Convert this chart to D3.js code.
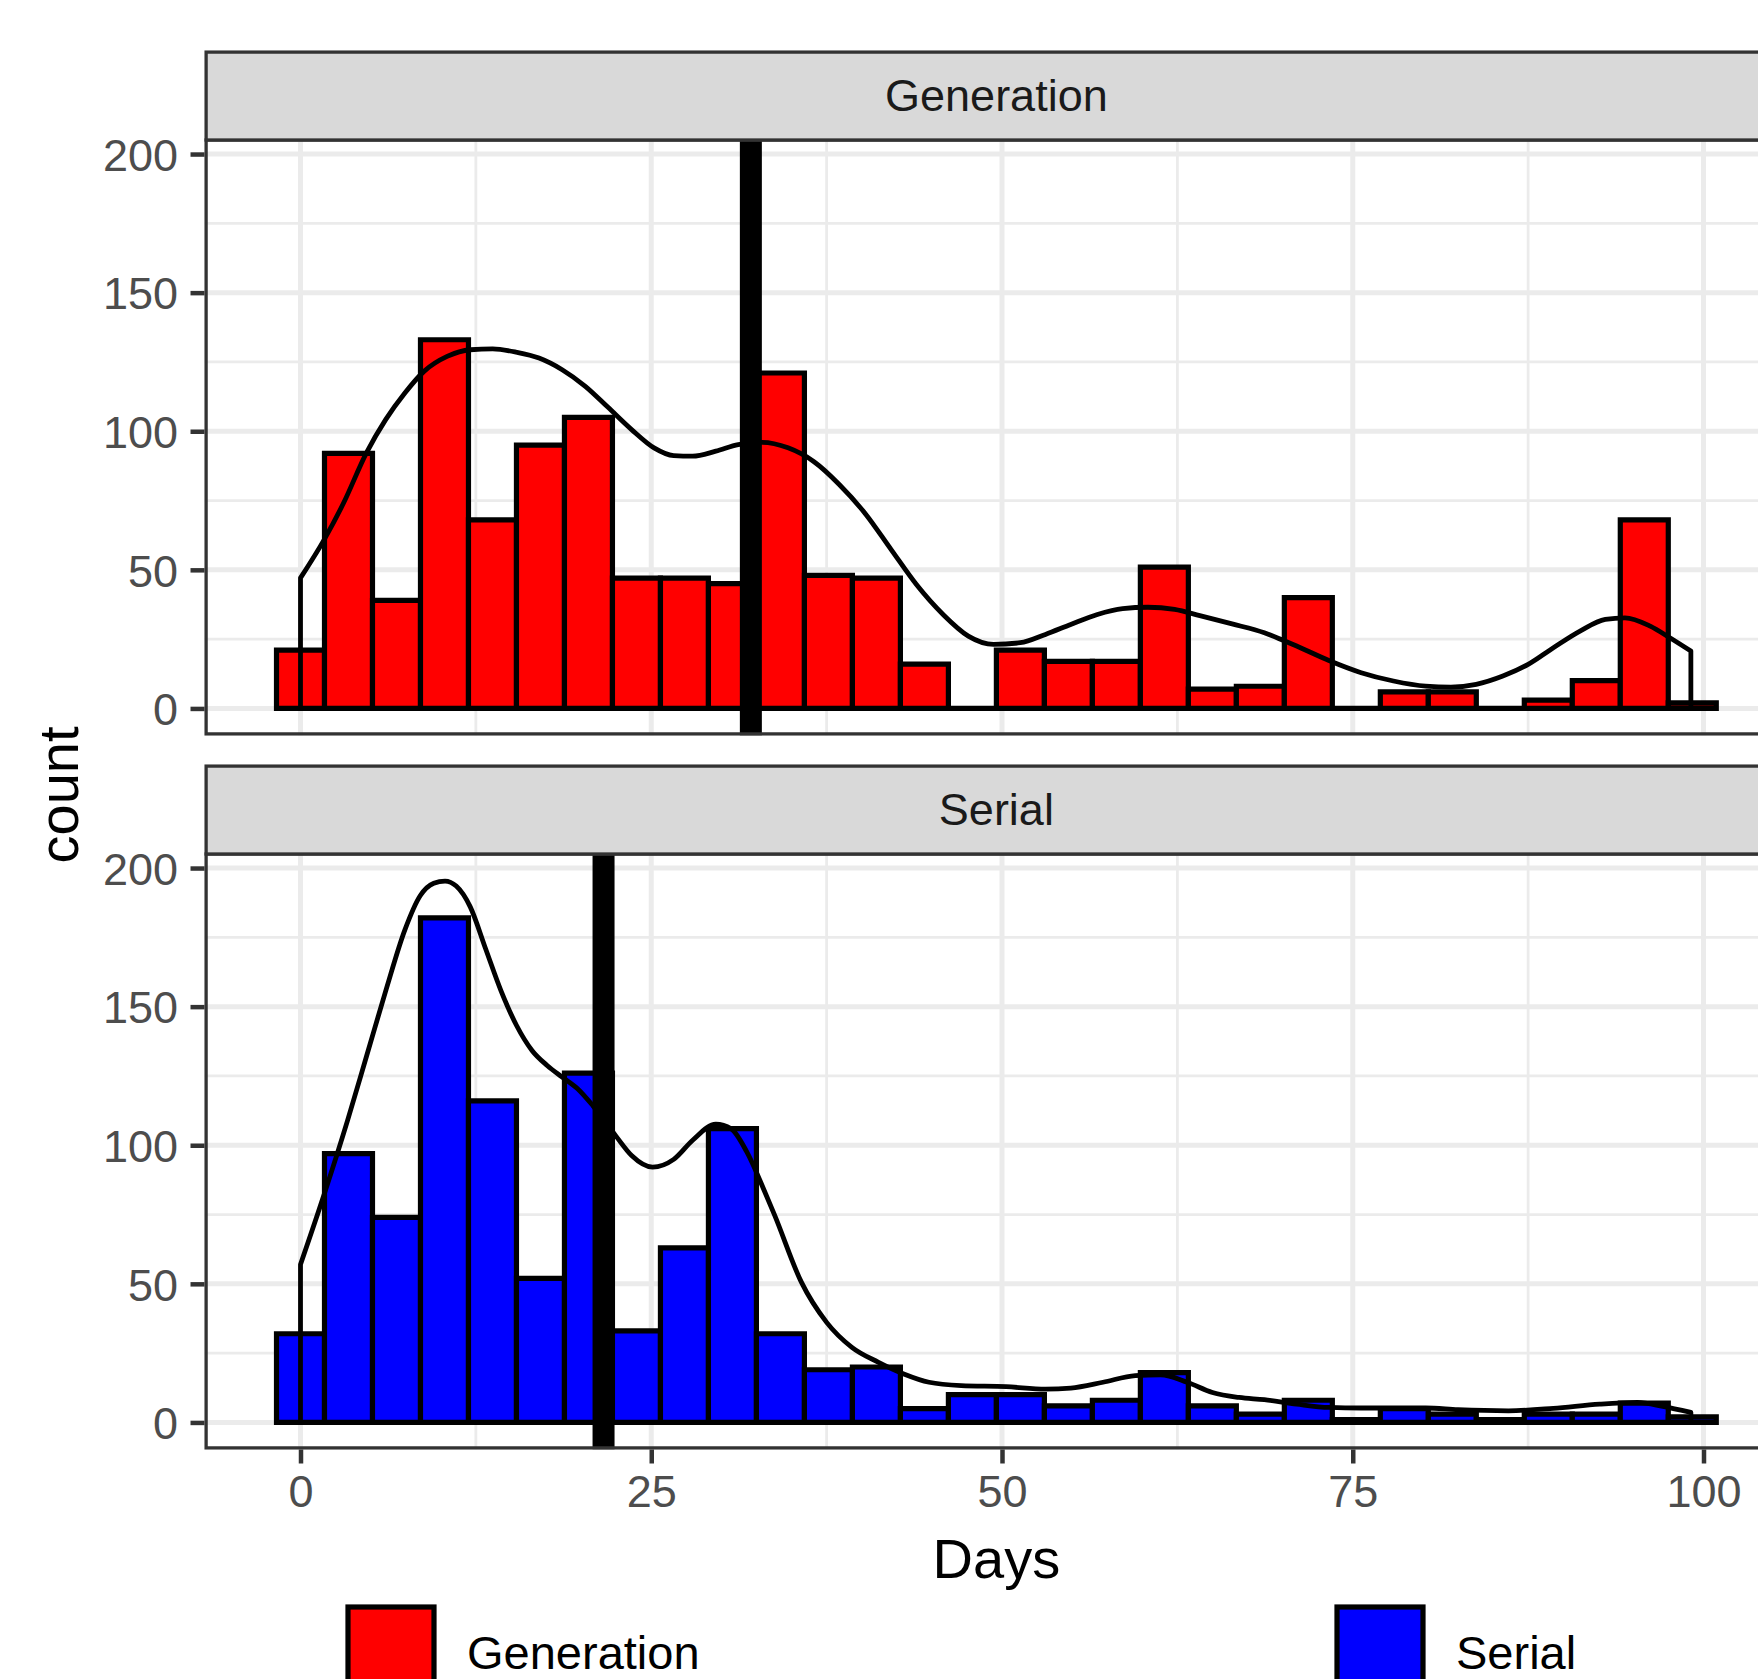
<!DOCTYPE html>
<html><head><meta charset="utf-8">
<script src="https://cdn.jsdelivr.net/npm/d3@7"></script>
<style>body{margin:0;background:#fff}svg{display:block}</style>
</head><body>
<svg id="chart" width="1758" height="1679"></svg>
<script>
// ---------------- data ----------------
const panels = ["Generation", "Serial"];
const fills = ["#FF0000", "#0000FF"];
const dataMin = 0, dataMax = 99.2, nBins = 30;
const generationCounts = [21, 92, 39, 133, 68, 95, 105, 47, 47, 45, 121, 48, 47, 16, 0, 21, 17, 17, 51, 7, 8, 40, 0, 6, 6, 0, 3, 10, 68, 2];
const serialCounts = [32, 97, 74, 182, 116, 52, 126, 33, 63, 106, 32, 19, 20, 5, 10, 10, 6, 8, 18, 6, 3, 8, 1, 5, 3, 1, 3, 3, 7, 2];
const generationMedian = 32.1;
const serialMedian = 21.6;
const generationDensityX = [0, 1.7, 3.06, 4.7, 6.07, 7.44, 8.8, 10.45, 12.1, 13.7, 15.4, 17, 18.65, 20.3, 21.9, 23.6, 25.2, 26.6, 27.95, 29.6, 31.2, 32.9, 34.75, 36.6, 38.4, 40.3, 42.1, 43.9, 45.8, 47.6, 49.4, 51.3, 53.1, 54.9, 56.8, 58.6, 60.4, 62.3, 64.1, 66.4, 68.7, 71, 73.3, 75.6, 77.9, 80.2, 82, 83.8, 85.7, 87.5, 89.3, 91.2, 93, 94.4, 96.2, 97.6, 99.1];
const generationDensityY = [47.1, 61, 74, 92.2, 104.2, 113.8, 121.6, 127, 129.4, 129.7, 128.5, 126.4, 122.2, 116.2, 108.7, 100.6, 94, 91.2, 91, 92.8, 95.2, 96, 94, 89, 80.8, 70, 57.3, 44.7, 33.9, 26.1, 23.1, 23.7, 26.7, 30.3, 33.9, 36, 36.5, 35.7, 33.5, 30.5, 27.3, 22.5, 17.3, 12.9, 9.9, 8.05, 7.7, 8.7, 11.7, 15.9, 21.9, 27.9, 32.1, 32.7, 29.7, 25.5, 20.7];
const serialDensityX = [0, 1.7, 3.34, 4.7, 6.07, 7.44, 8.53, 9.5, 10.3, 11.1, 12.1, 13.2, 14.3, 15.4, 16.5, 17.6, 18.65, 19.75, 20.85, 22.5, 23.6, 25.1, 26.6, 27.95, 29.6, 30.7, 31.8, 33.15, 33.8, 35.7, 37.5, 39.3, 41.2, 43, 44.8, 47.1, 50.3, 53.1, 54.9, 57.2, 59.5, 61.3, 63.2, 65, 66.9, 68.7, 71, 73.3, 75.6, 80.2, 82.5, 86.1, 89.3, 92.6, 95.3, 97.1, 99.1];
const serialDensityY = [57, 82.5, 108.7, 132, 155.6, 177.7, 190, 194.5, 195.3, 193.5, 186, 170.8, 155.6, 143.2, 134.2, 128.7, 124.6, 120.4, 114.2, 103.2, 96.3, 92.1, 94.9, 101.8, 107.6, 105.9, 97.7, 82.5, 74.7, 50.6, 36.1, 27.1, 21.7, 17.5, 14.5, 13.3, 12.9, 12, 12.4, 14.5, 16.9, 17.2, 14.5, 10.8, 9, 8.2, 6.6, 5.4, 5.2, 5.2, 4.6, 4.2, 5.1, 6.6, 7.2, 5.8, 3.6];
const xTicks = [0, 25, 50, 75, 100];
const yTicks = [0, 50, 100, 150, 200];
const xLabel = "Days", yLabel = "count";

// ---------------- layout ----------------
const W = 1758, H = 1679;
const font = "'Liberation Sans', Arial, Helvetica, sans-serif";
const small = 45, big = 56, legendSize = 47;
const stripTops = [50.5, 764.5];
const stripH = 89.5;
const panelH = 595.5;
const border = "#333333", gridCol = "#EBEBEB";

const svg = d3.select("#chart");
svg.append("rect").attr("width", W).attr("height", H).attr("fill", "#fff");

const series = [
  {name: panels[0], counts: generationCounts, median: generationMedian, dens: generationDensityX.map((d, i) => [d, generationDensityY[i]]), fill: fills[0]},
  {name: panels[1], counts: serialCounts, median: serialMedian, dens: serialDensityX.map((d, i) => [d, serialDensityY[i]]), fill: fills[1]}
];

// x scale (ggplot-like 5% expansion around the bins)
const binWidth = (dataMax - dataMin) / (nBins - 1);
const lo = dataMin - binWidth / 2, hi = dataMax + binWidth / 2;
const xLo = lo - 0.05 * (hi - lo), xHi = hi + 0.05 * (hi - lo);
const x = d3.scaleLinear().domain([0, 100]).range([300.5, 1703.5]);
const pL = x(xLo), pR = x(xHi);

const yMax = d3.max([...generationCounts, ...serialCounts, ...generationDensityY, ...serialDensityY]);
const yLo = -0.05 * yMax, yHi = 1.05 * yMax;

const xMinor = xTicks.slice(1).map((t, i) => (t + xTicks[i]) / 2);
const yMinor = yTicks.slice(1).map((t, i) => (t + yTicks[i]) / 2);

series.forEach((s, pi) => {
  const sTop = stripTops[pi];
  const top = sTop + stripH, bottom = top + panelH;
  const y = d3.scaleLinear().domain([yLo, yHi]).range([bottom, top]);
  const g = svg.append("g");
  const clipId = "clip" + pi;
  svg.append("clipPath").attr("id", clipId).append("rect")
    .attr("x", pL).attr("y", top).attr("width", pR - pL).attr("height", panelH);
  const pg = g.append("g").attr("clip-path", `url(#${clipId})`);
  pg.append("rect").attr("x", pL).attr("y", top).attr("width", pR - pL).attr("height", panelH).attr("fill", "#fff");
  // minor grid
  pg.selectAll(".ymin").data(yMinor).join("line").attr("x1", pL).attr("x2", pR)
    .attr("y1", d => y(d)).attr("y2", d => y(d)).attr("stroke", gridCol).attr("stroke-width", 2.8);
  pg.selectAll(".xmin").data(xMinor).join("line").attr("y1", top).attr("y2", bottom)
    .attr("x1", d => x(d)).attr("x2", d => x(d)).attr("stroke", gridCol).attr("stroke-width", 2.8);
  // major grid
  pg.selectAll(".ymaj").data(yTicks).join("line").attr("x1", pL).attr("x2", pR)
    .attr("y1", d => y(d)).attr("y2", d => y(d)).attr("stroke", gridCol).attr("stroke-width", 5);
  pg.selectAll(".xmaj").data(xTicks).join("line").attr("y1", top).attr("y2", bottom)
    .attr("x1", d => x(d)).attr("x2", d => x(d)).attr("stroke", gridCol).attr("stroke-width", 5);
  // bars
  const bins = s.counts.map((c, i) => ({x0: lo + i * binWidth, x1: lo + (i + 1) * binWidth, c}));
  pg.selectAll(".bar").data(bins).join("path")
    .attr("d", d => `M${x(d.x0)},${y(0)}V${y(d.c)}H${x(d.x1)}V${y(0)}Z`)
    .attr("fill", s.fill).attr("stroke", "#000").attr("stroke-width", 5.2).attr("stroke-linejoin", "miter");
  // median line
  pg.append("line").attr("x1", x(s.median)).attr("x2", x(s.median)).attr("y1", top).attr("y2", bottom)
    .attr("stroke", "#000").attr("stroke-width", 22);
  // density
  const area = d3.area().x(d => x(d[0])).y0(y(0)).y1(d => y(d[1])).curve(d3.curveMonotoneX);
  pg.append("path").attr("d", area(s.dens)).attr("fill", "none").attr("stroke", "#000")
    .attr("stroke-width", 4.8).attr("stroke-linejoin", "round");
  // panel border
  g.append("rect").attr("x", pL + 1.6).attr("y", top).attr("width", pR - pL).attr("height", panelH - 1.6)
    .attr("fill", "none").attr("stroke", border).attr("stroke-width", 3.3);
  // strip
  g.append("rect").attr("x", pL + 1.6).attr("y", sTop + 1.6).attr("width", pR - pL).attr("height", stripH - 1.6)
    .attr("fill", "#D9D9D9").attr("stroke", border).attr("stroke-width", 3.3);
  g.append("text").attr("x", (pL + pR) / 2).attr("y", sTop + stripH / 2 + 16)
    .attr("text-anchor", "middle").attr("font-family", font).attr("font-size", small)
    .attr("fill", "#1A1A1A").text(s.name);
  // y axis
  const ya = g.append("g").attr("transform", `translate(${pL},0)`)
    .call(d3.axisLeft(y).tickValues(yTicks).tickSize(14).tickPadding(12.5));
  ya.select(".domain").remove();
  ya.selectAll(".tick line").attr("stroke", border).attr("stroke-width", 4.5);
  ya.selectAll(".tick text").attr("font-family", font).attr("font-size", small)
    .attr("fill", "#4D4D4D").attr("dy", "0.36em");
  if (pi === series.length - 1) {
    const xa = g.append("g").attr("transform", `translate(0,${bottom})`)
      .call(d3.axisBottom(x).tickValues(xTicks).tickSize(14).tickPadding(12));
    xa.select(".domain").remove();
    xa.selectAll(".tick line").attr("stroke", border).attr("stroke-width", 4.5);
    xa.selectAll(".tick text").attr("font-family", font).attr("font-size", small).attr("fill", "#4D4D4D");
  }
});

// axis titles
svg.append("text").attr("x", (pL + pR) / 2).attr("y", 1577.5).attr("text-anchor", "middle")
  .attr("font-family", font).attr("font-size", big).attr("fill", "#000").text(xLabel);
svg.append("text").attr("transform", `translate(78,795) rotate(-90)`).attr("text-anchor", "middle")
  .attr("font-family", font).attr("font-size", big).attr("fill", "#000").text(yLabel);

// legend
const legendX = [348, 1337];
const keySize = 86, keyTop = 1607;
panels.forEach((name, i) => {
  svg.append("rect").attr("x", legendX[i]).attr("y", keyTop).attr("width", keySize).attr("height", keySize)
    .attr("fill", fills[i]).attr("stroke", "#000").attr("stroke-width", 5.2);
  svg.append("text").attr("x", legendX[i] + keySize + 33).attr("y", 1669)
    .attr("font-family", font).attr("font-size", legendSize).attr("fill", "#000").text(name);
});
</script>
</body></html>
